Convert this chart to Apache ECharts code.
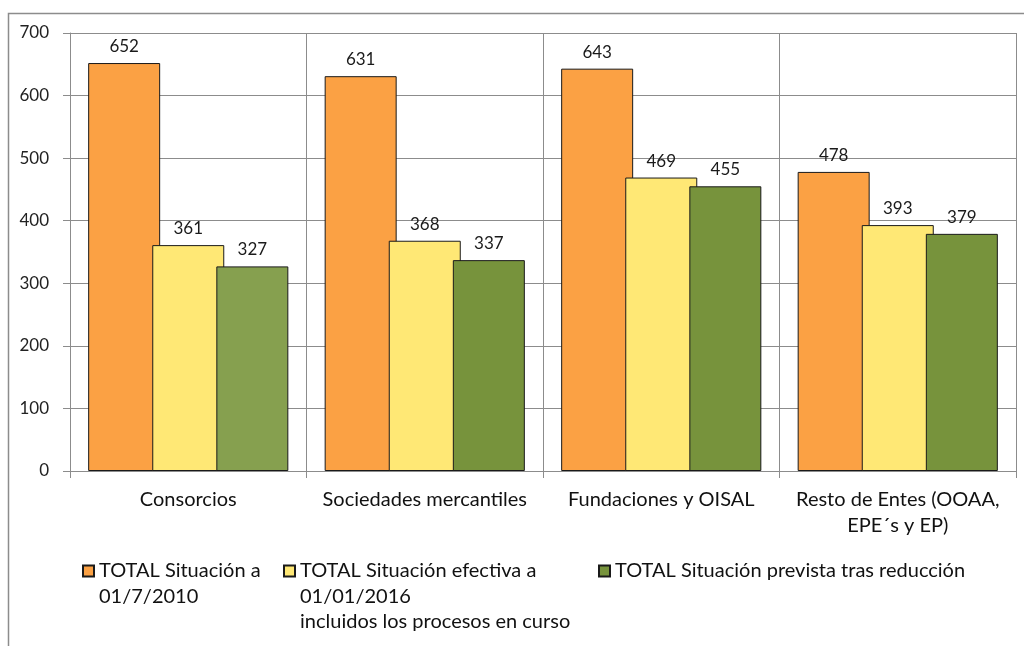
<!DOCTYPE html>
<html>
<head>
<meta charset="utf-8">
<script src="https://cdn.jsdelivr.net/npm/echarts@6/dist/echarts.min.js"></script>
<style>
html,body{margin:0;padding:0;background:#fff;}
#chart{width:1024px;height:646px;}
</style>
</head>
<body>
<div id="chart"></div>
<script>
const categories = ['Consorcios', 'Sociedades mercantiles', 'Fundaciones y OISAL', 'Resto de Entes (OOAA,\nEPE´s y EP)'];
const seriesNames = ['TOTAL Situación a 01/7/2010', 'TOTAL Situación efectiva a 01/01/2016 incluidos los procesos en curso', 'TOTAL Situación prevista tras reducción'];
const legendTexts = ['TOTAL Situación a\n01/7/2010', 'TOTAL Situación efectiva a\n01/01/2016\nincluidos los procesos en curso', 'TOTAL Situación prevista tras reducción'];
const situacion2010 = [652, 631, 643, 478];
const situacion2016 = [361, 368, 469, 393];
const situacionPrevista = [327, 337, 455, 379];
const yTicks = [0, 100, 200, 300, 400, 500, 600, 700];

const FONT = 'Lato';
const chart = echarts.init(document.getElementById('chart'), null, {renderer: 'canvas'});

const labelCfg = {show: true, position: 'top', distance: 8, fontSize: 17, color: '#1a1a1a', fontFamily: FONT};
function barSeries(name, data, color) {
  return {
    name: name, type: 'bar', data: data, barWidth: 72, barGap: '-11%',
    itemStyle: {color: color, borderColor: '#1a1a1a', borderWidth: 1},
    label: labelCfg
  };
}

const LH = 25.5;
function legendFor(i, left, lines, iconColor) {
  // leading blank lines keep the icon level with the first text line
  const pad = '\n'.repeat(lines - 1);
  const lg = {
    data: [seriesNames[i]], left: left, top: 571 - LH * (2 * lines - 1) / 2, padding: 0,
    itemWidth: 11, itemHeight: 11, icon: 'rect', selectedMode: false,
    formatter: () => pad + legendTexts[i],
    textStyle: {fontSize: 20, lineHeight: LH, color: '#111', fontFamily: FONT}
  };
  if (iconColor) lg.itemStyle = {color: iconColor};
  return lg;
}

chart.setOption({
  animation: false,
  textStyle: {fontFamily: FONT},
  grid: {left: 70, right: 8, top: 33, bottom: 175},
  graphic: [{
    type: 'rect', shape: {x: 8.5, y: 13.5, width: 1100, height: 700},
    style: {fill: 'none', stroke: '#8c8c8c', lineWidth: 1.5}, silent: true
  }],
  legend: [legendFor(0, 82, 2), legendFor(1, 283, 3), legendFor(2, 598, 1, '#77933C')],
  xAxis: {
    type: 'category', data: categories,
    axisLine: {lineStyle: {color: '#8c8c8c'}},
    axisTick: {show: true, length: 7, lineStyle: {color: '#8c8c8c'}},
    splitLine: {show: true, lineStyle: {color: '#8c8c8c'}},
    axisLabel: {fontSize: 20, color: '#111', lineHeight: 26, margin: 16, interval: 0, fontFamily: FONT}
  },
  yAxis: {
    type: 'value', min: yTicks[0], max: yTicks[yTicks.length - 1], interval: 100,
    axisLine: {show: true, lineStyle: {color: '#8c8c8c'}},
    axisTick: {show: true, length: 7, lineStyle: {color: '#8c8c8c'}},
    splitLine: {lineStyle: {color: '#8c8c8c'}},
    axisLabel: {fontSize: 17, color: '#222', margin: 21, fontFamily: FONT}
  },
  series: [
    barSeries(seriesNames[0], situacion2010, '#FBA144'),
    barSeries(seriesNames[1], situacion2016, '#FFE875'),
    barSeries(seriesNames[2], situacionPrevista, p => p.dataIndex === 0 ? '#86A04F' : '#77933C')
  ]
});
</script>
</body>
</html>
